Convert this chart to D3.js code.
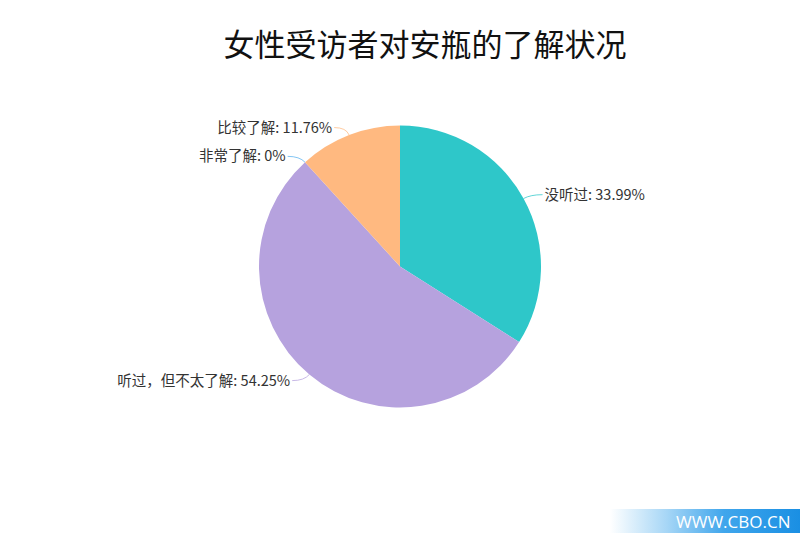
<!DOCTYPE html>
<html><head><meta charset="utf-8">
<script src="https://cdn.jsdelivr.net/npm/d3@7"></script>
<style>body{margin:0;background:#fff}svg{display:block}</style>
</head><body>
<svg id="c" width="800" height="533"></svg>
<script>
const title = "女性受访者对安瓶的了解状况";
const categories = ["没听过", "听过，但不太了解", "非常了解", "比较了解"];
const values = [33.99, 54.25, 0, 11.76];
const colors = ["#2ec7c9", "#b6a2de", "#5ab1ef", "#ffb980"];

const svg = d3.select("#c");
const cx = 400, cy = 266.5, R = 141;
const font = "'Noto Sans CJK SC', 'Noto Sans', sans-serif";

svg.append("text").attr("x", 425).attr("y", 56).attr("text-anchor", "middle")
  .attr("font-family", font).attr("font-size", 31).attr("fill", "#111").text(title);

const data = categories.map((c, i) => ({name: c, value: values[i], color: colors[i]}));
const pie = d3.pie().value(d => d.value).sort(null);
const arcs = pie(data);
const arc = d3.arc().innerRadius(0).outerRadius(R);
const g = svg.append("g").attr("transform", `translate(${cx},${cy})`);
g.selectAll("path.slice").data(arcs).enter().append("path").attr("class", "slice")
  .attr("d", arc).attr("fill", d => d.data.color);

const len1 = 8, len2 = 12, gap = 2;
arcs.forEach(a => {
  const m = (a.startAngle + a.endAngle) / 2;
  const s = Math.sin(m), c = -Math.cos(m);
  const p1 = [R * s, R * c];
  const p2 = [(R + len1) * s, (R + len1) * c];
  const dir = s >= 0 ? 1 : -1;
  const p3 = [p2[0] + dir * len2, p2[1]];
  const path = d3.path();
  path.moveTo(p1[0], p1[1]);
  path.quadraticCurveTo(p2[0], p2[1], p3[0], p3[1]);
  g.append("path").attr("d", path.toString()).attr("fill", "none")
    .attr("stroke", a.data.color).attr("stroke-opacity", 0.75).attr("stroke-width", 1);
  g.append("text").attr("x", p3[0] + dir * gap).attr("y", p3[1])
    .attr("dy", "0.35em").attr("text-anchor", dir > 0 ? "start" : "end")
    .attr("font-family", font).attr("font-size", 14.5).attr("fill", "#333")
    .text(`${a.data.name}: ${a.data.value}%`);
});

// watermark
const defs = svg.append("defs");
const lg = defs.append("linearGradient").attr("id", "wm").attr("x1", "0").attr("x2", "1");
lg.append("stop").attr("offset", "0").attr("stop-color", "#ffffff");
lg.append("stop").attr("offset", "0.3").attr("stop-color", "#a6d6f6");
lg.append("stop").attr("offset", "0.6").attr("stop-color", "#40a6ec");
lg.append("stop").attr("offset", "1").attr("stop-color", "#1a8fe3");
svg.append("rect").attr("x", 610).attr("y", 509).attr("width", 190).attr("height", 24).attr("fill", "url(#wm)");
svg.append("text").attr("x", 676).attr("y", 528).attr("font-family", "'Open Sans', sans-serif")
  .attr("font-size", 17).attr("fill", "#fff").text("WWW.CBO.CN");
</script>
</body></html>
